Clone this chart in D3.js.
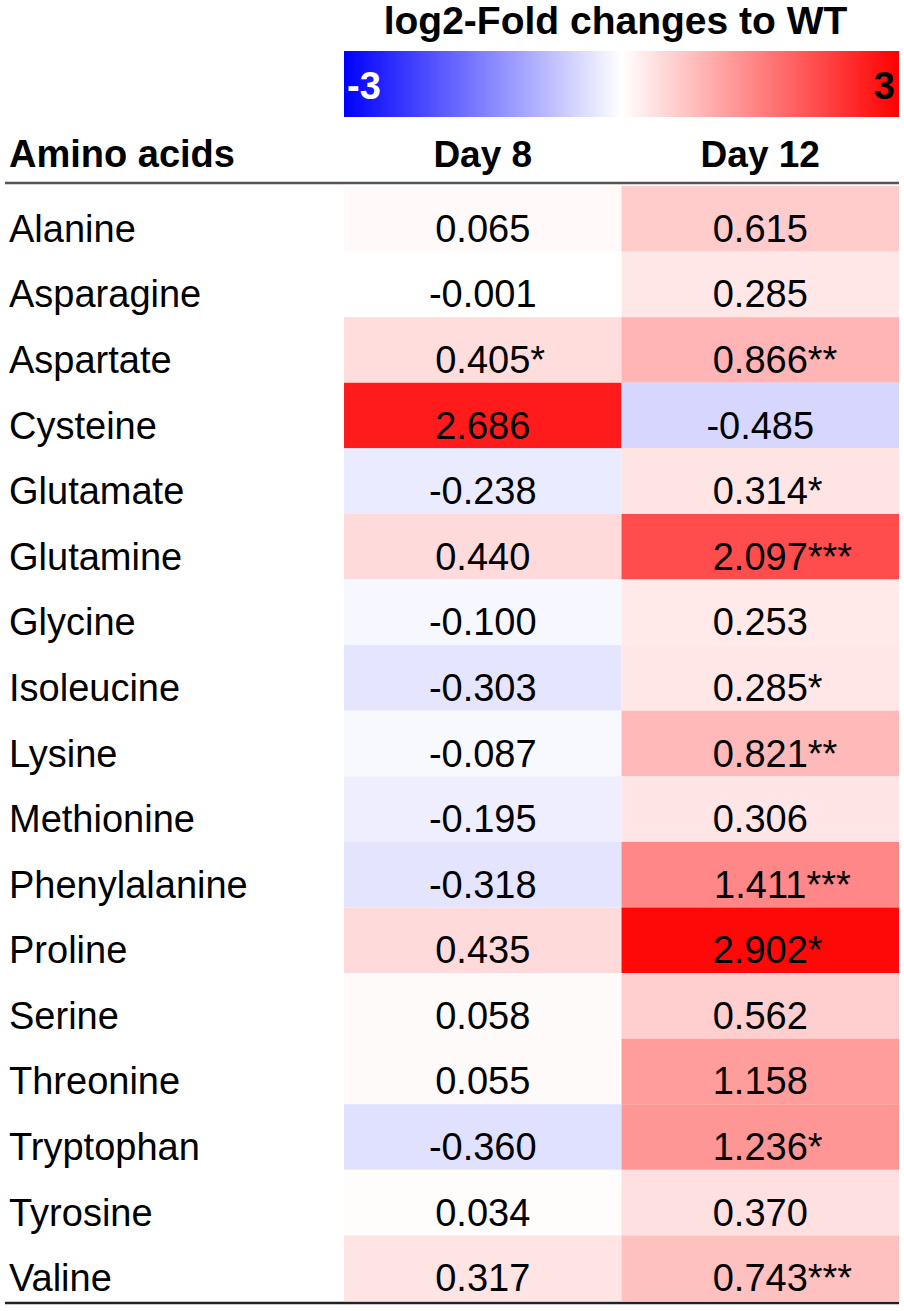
<!DOCTYPE html>
<html>
<head>
<meta charset="utf-8">
<script src="https://cdn.jsdelivr.net/npm/d3@7"></script>
<style>
  html, body { margin: 0; padding: 0; background: #fff; }
  svg { display: block; font-family: "Liberation Sans", Arial, sans-serif; }
</style>
</head>
<body>
<svg id="chart" width="904" height="1311"></svg>
<script>
const aminoAcids = ["Alanine", "Asparagine", "Aspartate", "Cysteine", "Glutamate", "Glutamine", "Glycine",
  "Isoleucine", "Lysine", "Methionine", "Phenylalanine", "Proline", "Serine", "Threonine",
  "Tryptophan", "Tyrosine", "Valine"];
const columns = ["Day 8", "Day 12"];
const day8 = [0.065, -0.001, 0.405, 2.686, -0.238, 0.440, -0.100, -0.303, -0.087, -0.195, -0.318,
  0.435, 0.058, 0.055, -0.360, 0.034, 0.317];
const day8Sig = ["", "", "*", "", "", "", "", "", "", "", "", "", "", "", "", "", ""];
const day12 = [0.615, 0.285, 0.866, -0.485, 0.314, 2.097, 0.253, 0.285, 0.821, 0.306, 1.411,
  2.902, 0.562, 1.158, 1.236, 0.370, 0.743];
const day12Sig = ["", "", "**", "", "*", "***", "", "*", "**", "", "***", "*", "", "", "*", "", "***"];
const legendDomain = [-3, 0, 3];
const legendTitle = "log2-Fold changes to WT";
const rowHeader = "Amino acids";

const svg = d3.select("#chart");
const fmt = d3.formatLocale({ decimal: ".", thousands: ",", grouping: [3], currency: ["", ""], minus: "-" }).format(".3f");

const color = d3.scaleLinear().domain(legendDomain).range(["#0000ff", "#ffffff", "#ff0000"]).clamp(true);

const gLeft = 344, gRight = 899;
const gTop = 186, gBottom = 1301;

const x = d3.scaleBand().domain(columns).range([gLeft, gRight]).padding(0);
const y = d3.scaleBand().domain(aminoAcids).range([gTop, gBottom]).padding(0);

// Title
svg.append("text")
  .attr("x", (gLeft + gRight) / 2 - 6).attr("y", 34)
  .attr("text-anchor", "middle")
  .attr("font-size", 39).attr("font-weight", "bold")
  .text(legendTitle);

// Color bar
const defs = svg.append("defs");
const grad = defs.append("linearGradient").attr("id", "cbar").attr("x1", "0%").attr("x2", "100%");
d3.range(0, 1.0001, 0.1).forEach(t => {
  const v = legendDomain[0] + t * (legendDomain[2] - legendDomain[0]);
  grad.append("stop").attr("offset", (t * 100) + "%").attr("stop-color", color(v));
});
const legendX = d3.scaleLinear().domain([legendDomain[0], legendDomain[2]]).range([gLeft, gRight]);
svg.append("rect")
  .attr("x", legendX(legendDomain[0])).attr("y", 51)
  .attr("width", legendX(legendDomain[2]) - legendX(legendDomain[0])).attr("height", 66)
  .attr("fill", "url(#cbar)");
svg.append("text")
  .attr("x", legendX(legendDomain[0]) + 3).attr("y", 99)
  .attr("font-size", 38).attr("font-weight", "bold").attr("fill", "#fff")
  .text(String(legendDomain[0]));
svg.append("text")
  .attr("x", legendX(legendDomain[2]) - 4).attr("y", 99)
  .attr("text-anchor", "end")
  .attr("font-size", 38).attr("font-weight", "bold").attr("fill", "#000")
  .text(String(legendDomain[2]));

// Header
svg.append("text")
  .attr("x", 9).attr("y", 167)
  .attr("font-size", 38).attr("font-weight", "bold")
  .text(rowHeader);
svg.selectAll("text.colhead").data(columns).join("text")
  .attr("class", "colhead")
  .attr("x", d => x(d) + x.bandwidth() / 2).attr("y", 167)
  .attr("text-anchor", "middle")
  .attr("font-size", 37).attr("font-weight", "bold")
  .text(d => d);

// Cells
const cells = [];
aminoAcids.forEach((a, i) => {
  cells.push({ row: a, col: columns[0], v: day8[i], sig: day8Sig[i] });
  cells.push({ row: a, col: columns[1], v: day12[i], sig: day12Sig[i] });
});

svg.selectAll("rect.cell").data(cells).join("rect")
  .attr("class", "cell")
  .attr("x", d => x(d.col)).attr("y", d => y(d.row))
  .attr("width", x.bandwidth()).attr("height", y.bandwidth())
  .attr("fill", d => color(d.v));

const textDy = 23;

// Row labels
svg.selectAll("text.rowlab").data(aminoAcids).join("text")
  .attr("class", "rowlab")
  .attr("x", 9).attr("y", d => y(d) + y.bandwidth() / 2 + textDy)
  .attr("font-size", 38)
  .text(d => d);

// Values
const valG = svg.append("g");
cells.forEach(d => {
  const cx = x(d.col) + x.bandwidth() / 2;
  const cy = y(d.row) + y.bandwidth() / 2 + textDy;
  const t = valG.append("text")
    .attr("x", cx).attr("y", cy)
    .attr("text-anchor", "middle")
    .attr("font-size", 38)
    .text(fmt(d.v));
  if (d.sig) {
    const w = t.node().getComputedTextLength();
    valG.append("text")
      .attr("x", cx + w / 2).attr("y", cy)
      .attr("font-size", 38)
      .text(d.sig);
  }
});

// Rules
svg.append("line").attr("x1", 5).attr("x2", gRight).attr("y1", 183).attr("y2", 183)
  .attr("stroke", "#555").attr("stroke-width", 2.5);
svg.append("line").attr("x1", 5).attr("x2", gRight).attr("y1", 1303).attr("y2", 1303)
  .attr("stroke", "#222").attr("stroke-width", 2.5);
</script>
</body>
</html>
